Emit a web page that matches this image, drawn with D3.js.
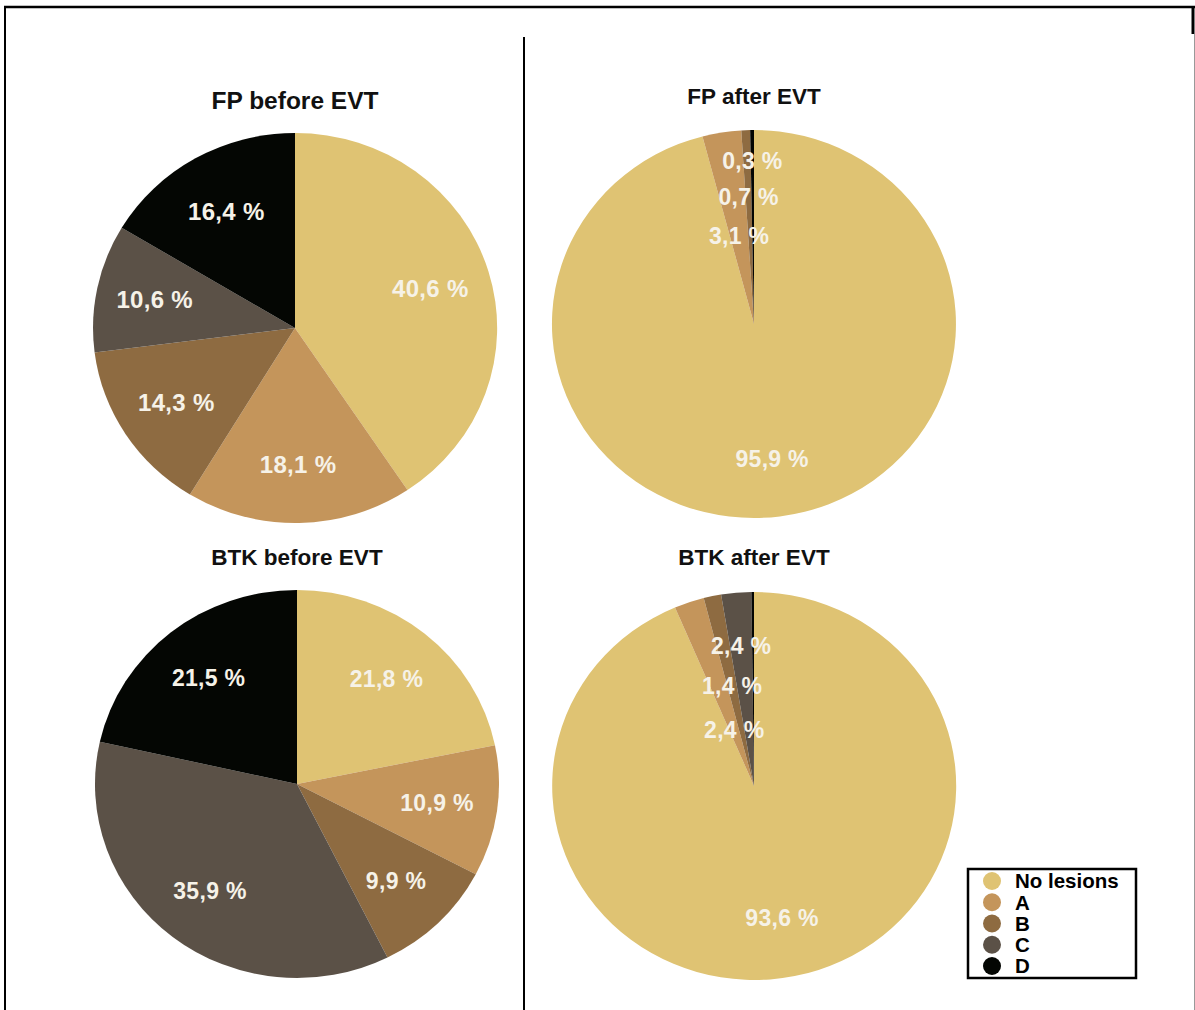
<!DOCTYPE html>
<html>
<head>
<meta charset="utf-8">
<script src="https://cdn.jsdelivr.net/npm/d3@7/dist/d3.min.js"></script>
<style>
  html, body { margin: 0; padding: 0; background: #fff; }
  svg { display: block; }
  text { font-family: "Liberation Sans", Arial, Helvetica, sans-serif; font-weight: bold; }
</style>
</head>
<body>
<svg id="chart" width="1195" height="1010"></svg>
<script>
// Lesion grade categories (clockwise from 12 o'clock)
const categories = ["No lesions", "A", "B", "C", "D"];

// Share of segments per grade, in percent
const fpBefore  = [40.6, 18.1, 14.3, 10.6, 16.4];
const fpAfter   = [95.9, 3.1, 0.7, 0, 0.3];
const btkBefore = [21.8, 10.9, 9.9, 35.9, 21.5];
const btkAfter  = [93.6, 2.4, 1.4, 2.4, 0.2];

const titles = ["FP before EVT", "FP after EVT", "BTK before EVT", "BTK after EVT"];

const colors = ["#dfc373", "#c4955b", "#8e6b41", "#5b5147", "#040603"];

// Panel layout: centre, radii, label placement (fraction of radius per grade)
const panels = [
  { values: fpBefore,  title: titles[0], cx: 295, cy: 328, rx: 202, ry: 195,
    titleY: 100, titleSize: 24.5, labelSize: 24, labelR: [0.70, 0.70, 0.70, 0.71, 0.69], hide: [] },
  { values: fpAfter,   title: titles[1], cx: 754, cy: 324, rx: 202, ry: 194,
    titleY: 96, titleSize: 22.5, labelSize: 23, labelR: [0.70, 0.46, 0.655, 0, 0.84], hide: [] },
  { values: btkBefore, title: titles[2], cx: 297, cy: 784, rx: 202, ry: 194,
    titleY: 557, titleSize: 22.5, labelSize: 23, labelR: [0.70, 0.70, 0.70, 0.70, 0.70], hide: [] },
  { values: btkAfter,  title: titles[3], cx: 754, cy: 786, rx: 202, ry: 194,
    titleY: 557, titleSize: 22.5, labelSize: 23, labelR: [0.695, 0.305, 0.526, 0.724, 0], hide: ["D"] }
];

const svg = d3.select("#chart");

// Frame and divider
const frame = svg.append("g").attr("stroke", "#000").attr("fill", "none");
frame.append("line").attr("x1", 4).attr("x2", 1195).attr("y1", 7).attr("y2", 7).attr("stroke-width", 2.5);
frame.append("line").attr("x1", 5).attr("x2", 5).attr("y1", 6).attr("y2", 1010).attr("stroke-width", 2);
frame.append("line").attr("x1", 1193).attr("x2", 1193).attr("y1", 6).attr("y2", 34).attr("stroke-width", 3);
frame.append("line").attr("x1", 1194.5).attr("x2", 1194.5).attr("y1", 34).attr("y2", 1010).attr("stroke-width", 1).attr("stroke", "#999");
frame.append("line").attr("x1", 524).attr("x2", 524).attr("y1", 37).attr("y2", 1010).attr("stroke-width", 2);

const pie = d3.pie().sort(null).value(d => d.value);
const arc = d3.arc().innerRadius(0).outerRadius(1);
const fmt = v => String(v.toFixed(1)).replace(".", ",") + " %";

panels.forEach(p => {
  const rows = categories.map((c, i) => ({ cat: c, value: p.values[i], i }));
  const arcs = pie(rows);

  // Slices: unit arcs stretched to the panel's radii
  const g = svg.append("g")
    .attr("transform", `translate(${p.cx},${p.cy}) scale(${p.rx},${p.ry})`);
  g.selectAll("path")
    .data(arcs.filter(a => a.data.value > 0))
    .join("path")
    .attr("d", arc)
    .attr("fill", d => colors[d.data.i]);

  // Percentage labels on each slice's mid-angle
  svg.append("g").selectAll("text")
    .data(arcs.filter(a => a.data.value > 0 && !p.hide.includes(a.data.cat)))
    .join("text")
    .attr("x", d => {
      const m = (d.startAngle + d.endAngle) / 2;
      return p.cx + Math.sin(m) * p.rx * p.labelR[d.data.i];
    })
    .attr("y", d => {
      const m = (d.startAngle + d.endAngle) / 2;
      return p.cy - Math.cos(m) * p.ry * p.labelR[d.data.i];
    })
    .attr("dy", "0.36em")
    .attr("text-anchor", "middle")
    .attr("fill", "#f6f2e8")
    .attr("font-size", p.labelSize)
    .attr("letter-spacing", 0.3)
    .text(d => fmt(d.data.value));

  // Panel title
  svg.append("text")
    .attr("x", p.cx)
    .attr("y", p.titleY)
    .attr("dy", "0.36em")
    .attr("text-anchor", "middle")
    .attr("fill", "#111")
    .attr("font-size", p.titleSize)
    .text(p.title);
});

// Legend
const legend = svg.append("g");
legend.append("rect")
  .attr("x", 968).attr("y", 869).attr("width", 168).attr("height", 109)
  .attr("fill", "#fff").attr("stroke", "#000").attr("stroke-width", 2.5);
const ly = d3.scalePoint().domain(categories).range([881, 966]);
const items = legend.selectAll("g.item").data(categories).join("g").attr("class", "item");
items.append("circle")
  .attr("cx", 992).attr("cy", d => ly(d)).attr("r", 9)
  .attr("fill", (d, i) => colors[i]);
items.append("text")
  .attr("x", 1015).attr("y", d => ly(d)).attr("dy", "0.36em")
  .attr("font-size", 20.5).attr("fill", "#000")
  .text(d => d);
</script>
</body>
</html>
